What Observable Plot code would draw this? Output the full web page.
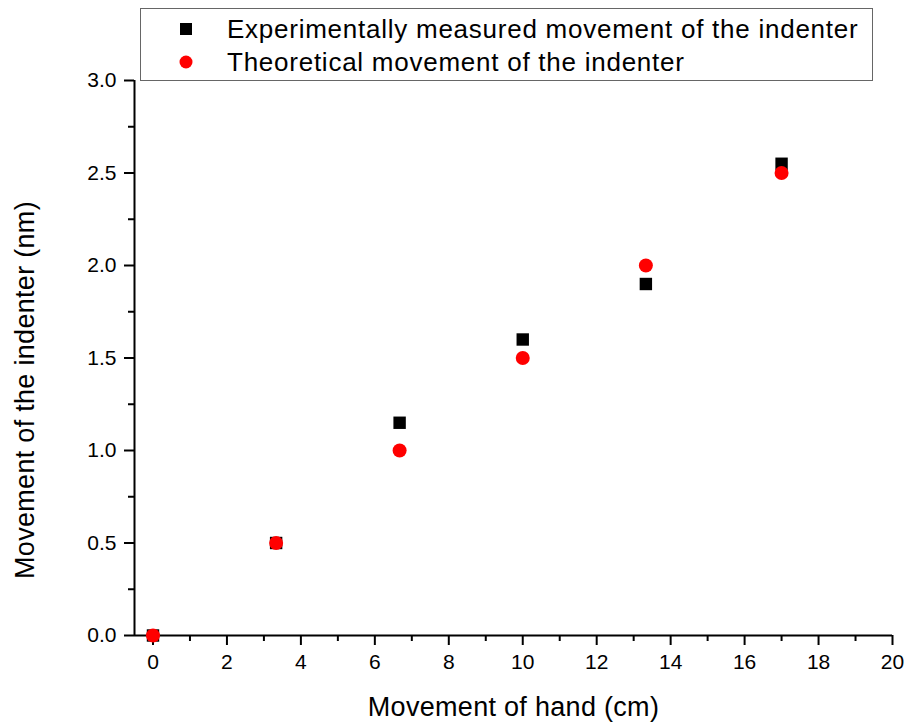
<!DOCTYPE html>
<html>
<head>
<meta charset="utf-8">
<script src="https://cdn.jsdelivr.net/npm/d3@7"></script>
<script src="https://cdn.jsdelivr.net/npm/@observablehq/plot@0.6"></script>
<style>
  html, body { margin: 0; padding: 0; background: #fff; }
  #wrap { position: relative; width: 908px; height: 725px; font-family: "Liberation Sans", Arial, sans-serif; }
  #legend { position: absolute; left: 140px; top: 8px; width: 733px; height: 73px; border: 1px solid #666; background: #fff; box-sizing: border-box; }
  #legend .row { position: absolute; left: 0; height: 32px; display: flex; align-items: center; font-size: 26px; letter-spacing: 0.75px; color: #000; white-space: nowrap; }
  #legend svg { margin-left: 38px; margin-right: 34px; }
</style>
</head>
<body>
<div id="wrap">
  <div id="chart"></div>
  <div id="legend"></div>
</div>
<script>
const handMovement = [0, 3.33, 6.67, 10, 13.33, 17];
const experimental = [0, 0.5, 1.15, 1.6, 1.9, 2.55];
const theoretical = [0, 0.5, 1.0, 1.5, 2.0, 2.5];
const seriesNames = ["Experimentally measured movement of the indenter", "Theoretical movement of the indenter"];
const seriesColors = ["#000000", "#ff0000"];
const seriesSymbols = ["square", "circle"];
const xMajorTicks = [0, 2, 4, 6, 8, 10, 12, 14, 16, 18, 20];
const xMinorTicks = [1, 3, 5, 7, 9, 11, 13, 15, 17, 19];
const yMajorTicks = [0, 0.5, 1.0, 1.5, 2.0, 2.5, 3.0];
const yMinorTicks = [0.25, 0.75, 1.25, 1.75, 2.25, 2.75];

const expData = handMovement.map((x, i) => ({x, y: experimental[i]}));
const theoData = handMovement.map((x, i) => ({x, y: theoretical[i]}));

const chart = Plot.plot({
  width: 908,
  height: 725,
  marginLeft: 134,
  marginRight: 16,
  marginTop: 80,
  marginBottom: 90,
  style: {fontFamily: "Liberation Sans, Arial, sans-serif", fontSize: "21px", color: "#000", background: "#fff"},
  x: {domain: [-0.5, 20]},
  y: {domain: [0, 3]},
  marks: [
    Plot.axisX(xMajorTicks, {tickSize: 10, tickPadding: 9, strokeWidth: 2, stroke: "#000", strokeOpacity: 1, tickFormat: d => String(d),
      label: "Movement of hand (cm)", labelAnchor: "center", labelArrow: "none", labelOffset: 80}),
    Plot.axisX(xMinorTicks, {tickSize: 6, strokeWidth: 2, stroke: "#000", strokeOpacity: 1, tickFormat: () => "", label: null}),
    Plot.axisY(yMajorTicks, {tickSize: 10, tickPadding: 8, strokeWidth: 2, stroke: "#000", strokeOpacity: 1, tickFormat: d3.format(".1f"),
      label: "Movement of the indenter (nm)", labelAnchor: "center", labelArrow: "none", labelOffset: 120}),
    Plot.axisY(yMinorTicks, {tickSize: 6, strokeWidth: 2, stroke: "#000", strokeOpacity: 1, tickFormat: () => "", label: null}),
    Plot.ruleY([0], {stroke: "#000", strokeWidth: 2}),
    Plot.ruleX([-0.5], {stroke: "#000", strokeWidth: 2}),
    Plot.dot(expData, {x: "x", y: "y", symbol: () => seriesSymbols[0], fill: seriesColors[0], r: 7}),
    Plot.dot(theoData, {x: "x", y: "y", symbol: () => seriesSymbols[1], fill: seriesColors[1], r: 7})
  ]
});
chart.querySelectorAll("text").forEach(t => {
  if (t.textContent.startsWith("Movement")) {
    t.style.fontSize = "27px";
    t.setAttribute("letter-spacing", "0.3");
    if (t.textContent.includes("indenter")) t.setAttribute("dx", "-32");
  } else {
    t.style.fontSize = "21px";
    t.style.fill = "#000";
  }
});
document.getElementById("chart").appendChild(chart);

// legend
const legend = document.getElementById("legend");
seriesNames.forEach((name, i) => {
  const row = document.createElement("div");
  row.className = "row";
  row.style.top = (i === 0 ? 4 : 37) + "px";
  const shape = seriesSymbols[i] === "square"
    ? `<rect x="1" y="1" width="12" height="12" fill="${seriesColors[i]}"/>`
    : `<circle cx="7" cy="7" r="6.5" fill="${seriesColors[i]}"/>`;
  row.innerHTML = `<svg width="14" height="14">${shape}</svg><span>${name}</span>`;
  legend.appendChild(row);
});
</script>
</body>
</html>
